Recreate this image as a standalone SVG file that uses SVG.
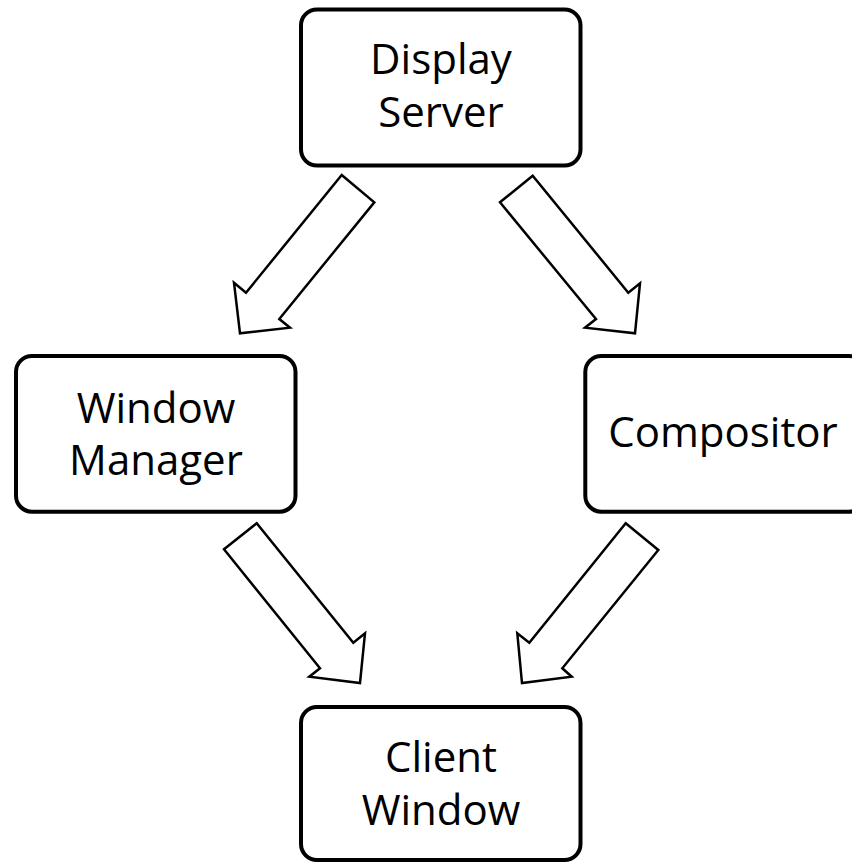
<svg xmlns="http://www.w3.org/2000/svg" width="852" height="863" viewBox="0 0 852 863">
  <style>
    .box { fill: #ffffff; stroke: #000000; stroke-width: 4; }
    .label { font-family: "Open Sans", "Liberation Sans", sans-serif; font-size: 42px; fill: #000000; text-anchor: middle; }
    .arrow { fill: #ffffff; stroke: #000000; stroke-width: 2.5; stroke-linejoin: miter; }
  </style>
  <rect width="852" height="863" fill="#ffffff"/>

  <g id="connectors">
    <!-- Display Server to Window Manager -->
    <polygon class="arrow" points="341.7,175 374.3,202.3 279.3,319 290,327.7 240,333.3 234,282.7 246,292.7"/>
    <!-- Display Server to Compositor -->
    <polygon class="arrow" points="532.7,175.7 500,202.3 596,319 585,327.7 635,333.3 640,283.3 628.3,292.7"/>
    <!-- Window Manager to Client Window -->
    <polygon class="arrow" points="256.7,523.3 224,549.3 320,668.3 309.3,676.7 360,683 365,633.3 353.3,642.7"/>
    <!-- Compositor to Client Window -->
    <polygon class="arrow" points="625.7,523.3 658.3,550 562.3,668.3 571.7,676.7 522,683 517.3,633.3 529.3,642.7"/>
  </g>

  <g id="display-server">
    <rect class="box" x="301" y="9.5" width="279.5" height="156" rx="16"/>
    <text class="label" x="441" y="74">Display</text>
    <text class="label" x="441" y="127">Server</text>
  </g>

  <g id="window-manager">
    <rect class="box" x="16" y="356" width="279.5" height="155.7" rx="16"/>
    <text class="label" x="156" y="423">Window</text>
    <text class="label" x="156" y="475">Manager</text>
  </g>

  <g id="compositor">
    <rect class="box" x="585.3" y="356" width="279.5" height="155.7" rx="16"/>
    <text class="label" x="723" y="447">Compositor</text>
  </g>

  <g id="client-window">
    <rect class="box" x="301" y="707" width="279.5" height="153" rx="16"/>
    <text class="label" x="441" y="772">Client</text>
    <text class="label" x="441" y="825">Window</text>
  </g>
</svg>
